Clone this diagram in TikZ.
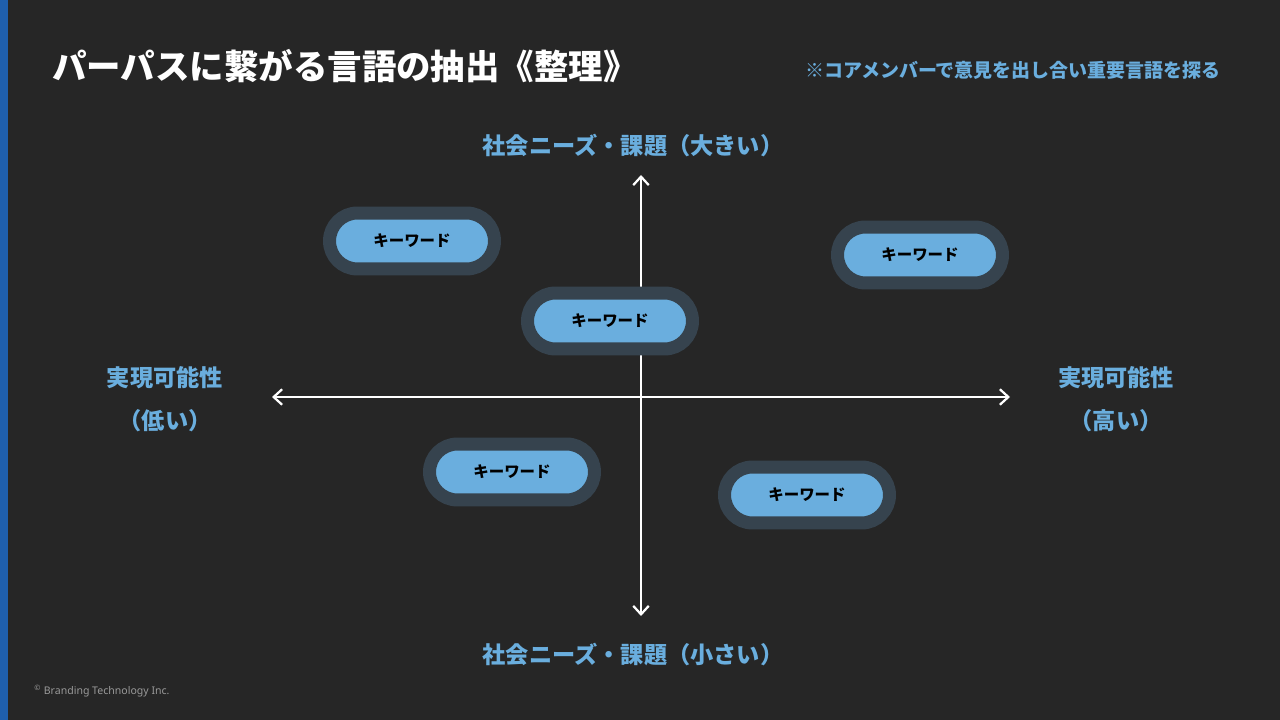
\documentclass[tikz,border=0pt]{standalone}
\usepackage{fontspec}
\setmainfont{Noto Sans}
\newfontfamily\jp{Noto Sans CJK JP}
\usetikzlibrary{arrows.meta}
\definecolor{bgdark}{HTML}{262626}
\definecolor{barblue}{HTML}{1F5FAD}
\definecolor{skyblue}{HTML}{6AAEDE}
\definecolor{pillring}{HTML}{36434E}
\tikzset{
  axis/.style={draw=white, line width=1.6pt, {Straight Barb[length=6pt,width=11pt]}-{Straight Barb[length=6pt,width=11pt]}},
  axislabel/.style={text=skyblue, font=\jp\bfseries\fontsize{16.5}{19}\selectfont},
  keyword/.style={fill=skyblue, rounded corners=28*0.711pt, minimum width=165*0.711pt, minimum height=56*0.711pt,
    font=\jp\bfseries\fontsize{11}{12}\selectfont, text=black, draw=pillring, line width=13*0.711pt, inner sep=0pt}
}
\begin{document}
\begin{tikzpicture}[x=0.025cm, y=-0.025cm]
  \fill[bgdark] (0,0) rectangle (1280,720);
  \useasboundingbox (0,0) rectangle (1280,720);
  \fill[barblue] (0,0) rectangle (8,720);
  % title and note
  \node (title) [anchor=west, text=white, font=\jp\bfseries\fontsize{24.5}{26}\selectfont, inner sep=0pt] at (52,66) {パーパスに繋がる言語の抽出《整理》};
  \node (note) [anchor=east, text=skyblue, font=\jp\bfseries\fontsize{13.5}{14}\selectfont, inner sep=0pt] at (1221,70) {※コアメンバーで意見を出し合い重要言語を探る};
  % axes
  \coordinate (west) at (272,397);
  \coordinate (east) at (1010,397);
  \coordinate (north) at (641,175);
  \coordinate (south) at (641,616);
  \draw[axis] (west) -- (east);
  \draw[axis] (north) -- (south);
  \node (top) [axislabel] at (633,146) {社会ニーズ・課題（大きい）};
  \node (bottom) [axislabel] at (633,655) {社会ニーズ・課題（小さい）};
  \node (left) [axislabel] at (165,378) {実現可能性};
  \node (leftsub) [axislabel] at (165,421) {（低い）};
  \node (right) [axislabel] at (1116,378) {実現可能性};
  \node (rightsub) [axislabel] at (1116,421) {（高い）};
  % keywords
  \node (kw1) [keyword] at (412,241) {キーワード};
  \node (kw2) [keyword] at (920,255) {キーワード};
  \node (kw3) [keyword] at (610,321) {キーワード};
  \node (kw4) [keyword] at (512,472) {キーワード};
  \node (kw5) [keyword] at (807,495) {キーワード};
  \node (copy) [anchor=west, text=gray!80, font=\bfseries\fontsize{7.5}{9}\selectfont, inner sep=0pt] at (34,691) {\textsuperscript{©} Branding Technology Inc.};
\end{tikzpicture}
\end{document}
